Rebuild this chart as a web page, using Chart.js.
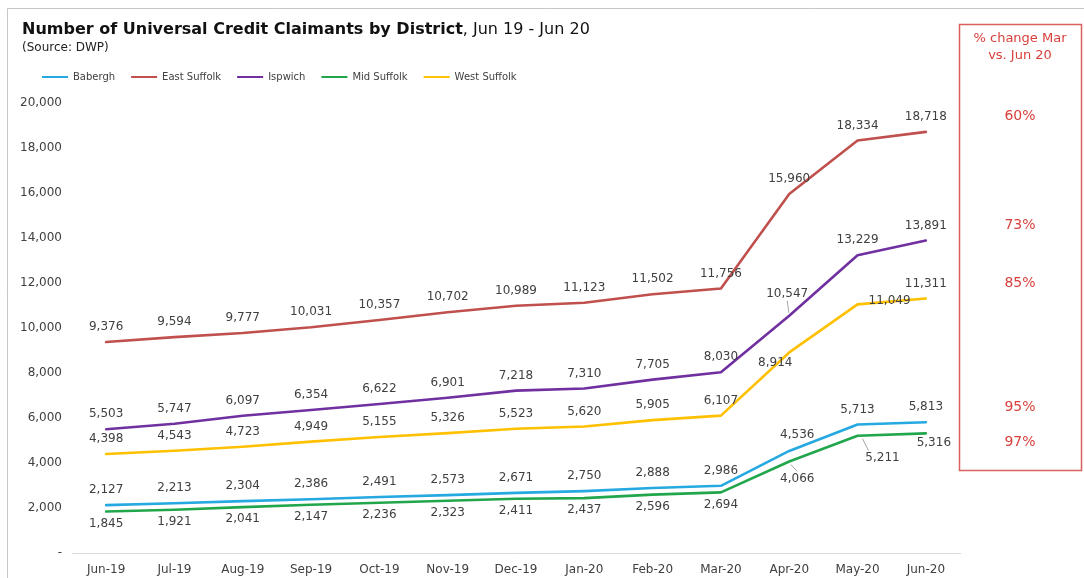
<!DOCTYPE html>
<html>
<head>
<meta charset="utf-8">
<script src="https://cdn.jsdelivr.net/npm/chart.js@4.4.0/dist/chart.umd.min.js"></script>
<style>
html, body { margin: 0; padding: 0; background: #fff; }
#wrap { position: relative; width: 1084px; height: 578px; }
</style>
</head>
<body>
<div id="wrap"><canvas id="ucChart"></canvas></div>
<script>
var months = ['Jun-19', 'Jul-19', 'Aug-19', 'Sep-19', 'Oct-19', 'Nov-19', 'Dec-19',
	'Jan-20', 'Feb-20', 'Mar-20', 'Apr-20', 'May-20', 'Jun-20'];
var districts = ['Babergh', 'East Suffolk', 'Ispwich', 'Mid Suffolk', 'West Suffolk'];
var babergh = [2127, 2213, 2304, 2386, 2491, 2573, 2671, 2750, 2888, 2986, 4536, 5713, 5813];
var eastSuffolk = [9376, 9594, 9777, 10031, 10357, 10702, 10989, 11123, 11502, 11756, 15960, 18334, 18718];
var ipswich = [5503, 5747, 6097, 6354, 6622, 6901, 7218, 7310, 7705, 8030, 10547, 13229, 13891];
var midSuffolk = [1845, 1921, 2041, 2147, 2236, 2323, 2411, 2437, 2596, 2694, 4066, 5211, 5316];
var westSuffolk = [4398, 4543, 4723, 4949, 5155, 5326, 5523, 5620, 5905, 6107, 8914, 11049, 11311];
var pctChange = ['95%', '60%', '73%', '97%', '85%'];
var yMax = 20000;
var yStep = 2000;

var colors = ['#25A9E0', '#C0504D', '#7030A0', '#22A64C', '#FFC000'];
var seriesValues = [babergh, eastSuffolk, ipswich, midSuffolk, westSuffolk];
var below = [false, false, false, true, false];

// label nudges where the default spot would collide (dataset:index)
var labelNudge = {
	'4:10': { dx: -14, dy: 10 },
	'4:11': { dx: 32, dy: -4 },
	'2:10': { dx: -2, dy: -22, leader: true },
	'3:10': { dx: 8, dy: 17, leader: true },
	'3:11': { dx: 25, dy: 22, leader: true },
	'3:12': { dx: 8, dy: 9 },
	'0:10': { dx: 8, dy: -16 }
};

var FONT = '"DejaVu Sans", Verdana, sans-serif';

function fmt(v) {
	return v.toLocaleString('en-GB');
}

var frameAndText = {
	id: 'frameAndText',
	beforeDraw: function(chart) {
		var ctx = chart.ctx;
		ctx.save();
		ctx.strokeStyle = '#C6C6C6';
		ctx.lineWidth = 1;
		ctx.beginPath();
		ctx.moveTo(7.5, 578);
		ctx.lineTo(7.5, 8.5);
		ctx.lineTo(1084, 8.5);
		ctx.stroke();

		ctx.fillStyle = '#111';
		ctx.textBaseline = 'middle';
		ctx.textAlign = 'left';
		ctx.font = 'bold 16px ' + FONT;
		var t1 = 'Number of Universal Credit Claimants by District';
		ctx.fillText(t1, 22, 30);
		var w = ctx.measureText(t1).width;
		ctx.font = '16px ' + FONT;
		ctx.fillText(', Jun 19 - Jun 20', 22 + w, 30);
		ctx.font = '12px ' + FONT;
		ctx.fillStyle = '#222';
		ctx.fillText('(Source: DWP)', 22, 48);

		// red box on the right
		ctx.strokeStyle = '#D9605E';
		ctx.lineWidth = 1.5;
		ctx.strokeRect(959.5, 24.5, 122, 446);
		ctx.fillStyle = '#D8403C';
		ctx.textAlign = 'center';
		ctx.font = '13px ' + FONT;
		ctx.fillText('% change Mar', 1020, 39);
		ctx.fillText('vs. Jun 20', 1020, 56);
		ctx.restore();
	},
	afterDatasetsDraw: function(chart) {
		var ctx = chart.ctx;
		ctx.save();
		ctx.textAlign = 'center';
		ctx.textBaseline = 'middle';
		chart.data.datasets.forEach(function(ds, di) {
			var meta = chart.getDatasetMeta(di);
			meta.data.forEach(function(pt, i) {
				var nudge = labelNudge[di + ':' + i] || { dx: 0, dy: below[di] ? 12 : -15 };
				var x = pt.x + nudge.dx;
				var y = pt.y + nudge.dy;
				if (nudge.leader) {
					ctx.strokeStyle = '#A6A6A6';
					ctx.lineWidth = 1;
					ctx.beginPath();
					var sy = nudge.dy < 0 ? y + 7 : y - 7;
					var sx = nudge.dx > 15 ? x - 14 : x;
					ctx.moveTo(sx, sy);
					ctx.lineTo(pt.x + nudge.dx * 0.2, pt.y + (nudge.dy < 0 ? -3 : 3));
					ctx.stroke();
				}
				ctx.font = '12px ' + FONT;
				ctx.fillStyle = '#404040';
				ctx.fillText(fmt(ds.data[i]), x, y);
				if (i === meta.data.length - 1) {
					ctx.font = '14px ' + FONT;
					ctx.fillStyle = '#D8403C';
					ctx.fillText(pctChange[di], 1020, y);
				}
			});
		});
		ctx.restore();
	}
};

var legendSpacer = {
	id: 'legendSpacer',
	beforeInit: function(chart) {
		var lg = chart.legend;
		var fit = lg.fit;
		lg.fit = function() {
			fit.call(lg);
			lg.height += 11;
		};
		var draw = lg.draw;
		lg.draw = function() {
			var ctx = chart.ctx;
			ctx.save();
			ctx.translate(8, 0);
			draw.call(lg);
			ctx.restore();
		};
	}
};

var datasets = districts.map(function(name, i) {
	return {
		label: name,
		data: seriesValues[i],
		borderColor: colors[i],
		backgroundColor: colors[i],
		borderWidth: 2.6,
		pointRadius: 0,
		tension: 0,
		borderJoinStyle: 'round',
		borderCapStyle: 'round'
	};
});

var config = {
	type: 'line',
	data: { labels: months, datasets: datasets },
	options: {
		responsive: true,
		maintainAspectRatio: false,
		animation: false,
		layout: { padding: { left: 18, right: 124, top: 56, bottom: 0 } },
		plugins: {
			tooltip: { enabled: false },
			legend: {
				position: 'top',
				align: 'start',
				labels: {
					boxWidth: 26,
					boxHeight: 2,
					padding: 16,
					color: '#404040',
					font: { family: FONT, size: 10 },
					generateLabels: function(chart) {
						var items = Chart.defaults.plugins.legend.labels.generateLabels(chart);
						items.forEach(function(it) { it.lineWidth = 0; });
						return items;
					}
				}
			}
		},
		scales: {
			x: {
				offset: true,
				grid: { display: false, drawTicks: false },
				border: { display: true, color: '#D9D9D9', width: 1 },
				ticks: { color: '#404040', font: { family: FONT, size: 12 }, padding: 10, maxRotation: 0 },
				afterFit: function(scale) { scale.height = 25; }
			},
			y: {
				min: 0,
				max: yMax,
				grid: { display: false, drawTicks: false },
				border: { display: false },
				ticks: {
					stepSize: yStep,
					padding: 10,
					color: '#404040',
					font: { family: FONT, size: 12 },
					callback: function(v) { return v === 0 ? '-' : fmt(v); }
				},
				afterFit: function(scale) { scale.width = 54; }
			}
		}
	},
	plugins: [frameAndText, legendSpacer]
};

new Chart(document.getElementById('ucChart'), config);
</script>
</body>
</html>
